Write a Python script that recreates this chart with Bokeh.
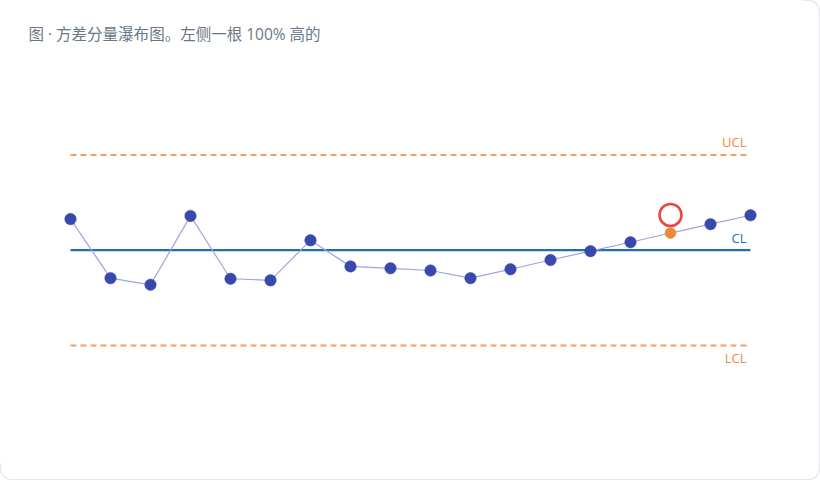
from bokeh.plotting import figure
from bokeh.models import Range1d, Label
from bokeh.embed import file_html
from bokeh.resources import INLINE

# ---- data ----
samples = list(range(18))
values = [10.98, 9.12, 8.91, 11.08, 9.10, 9.05, 10.31, 9.49, 9.43, 9.36,
          9.12, 9.40, 9.69, 9.97, 10.25, 10.54, 10.82, 11.10]
flagged = [15]
cl_value = 10.0
ucl_value = 13.0
lcl_value = 7.0
title_text = "图 · 方差分量瀑布图。左侧一根 100% 高的"
limit_labels = ["UCL", "CL", "LCL"]

W, H = 804, 464
p = figure(width=W, height=H, output_backend="svg", toolbar_location=None,
           x_range=Range1d(-1.75, 18.35), y_range=Range1d(3.25, 17.864),
           min_border=0, min_border_left=0, min_border_right=0,
           min_border_top=0, min_border_bottom=0)
p.axis.visible = False
p.grid.visible = False
p.outline_line_color = None
p.background_fill_color = "white"
p.border_fill_color = "white"
p.styles = {"border-radius": "4px",
            "box-shadow": "8px 8px 0 7px #ffffff, 8px 8px 0 8px #e4e7ec"}

x0, x1 = samples[0], samples[-1]

# limit lines
p.line([x0, x1], [ucl_value, ucl_value], line_color="#f0a060", line_width=2,
       line_dash="6 4")
p.line([x0, x1], [lcl_value, lcl_value], line_color="#f0a060", line_width=2,
       line_dash="6 4")
p.line([x0, x1], [cl_value, cl_value], line_color="#1f6db3", line_width=2.2)

# series line
p.line(samples, values, line_color="#9ea6d8", line_width=1.2)

normal_x = [x for x in samples if x not in flagged]
normal_y = [values[x] for x in samples if x not in flagged]
p.scatter(normal_x, normal_y, size=11.5, fill_color="#3949ab",
          line_color="#3949ab", line_width=0.5)
flag_x = [x for x in flagged]
flag_y = [values[x] for x in flagged]
p.scatter(flag_x, flag_y, size=10.5, fill_color="#ee8a35", line_color="#ee8a35")
# ring above flagged point
ring_offset = 0.57
p.scatter(flag_x, [v + ring_offset for v in flag_y], size=22, fill_color=None,
          line_color="#e8493b", line_width=2.6)

# limit labels
label_colors = ["#ee8a3a", "#1f6db3", "#ee8a3a"]
label_vals = [ucl_value, cl_value, lcl_value]
label_offs = [13, 12.5, -13]
for t, c, v, o in zip(limit_labels, label_colors, label_vals, label_offs):
    p.add_layout(Label(x=x1, y=v, x_offset=-4, y_offset=o, text=t,
                       text_align="right", text_baseline="middle",
                       text_font="Open Sans", text_font_size="13px",
                       text_color=c))

# title
p.add_layout(Label(x=28, y=H - 33, x_units="screen", y_units="screen",
                   text=title_text, text_align="left", text_baseline="middle",
                   text_font="'Open Sans', 'Noto Sans CJK SC'",
                   text_font_size="15.5px", text_color="#6b7787"))

open("out.html", "w").write(file_html(p, INLINE))
